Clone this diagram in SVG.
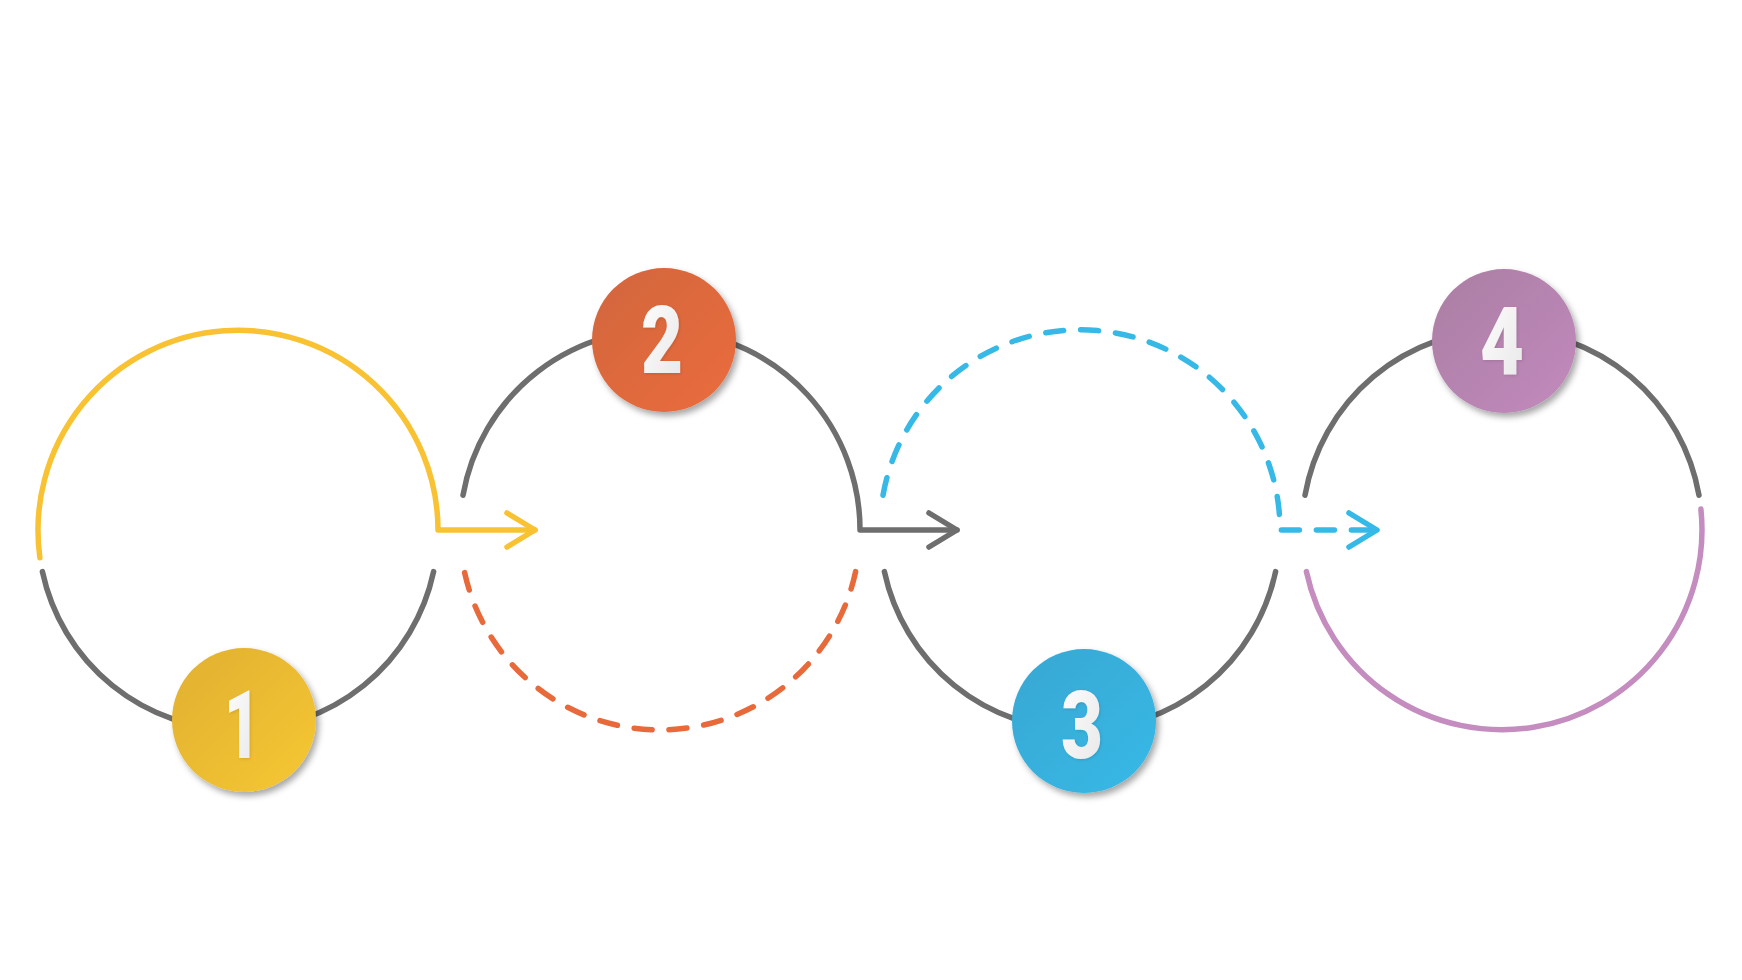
<svg xmlns="http://www.w3.org/2000/svg" width="1742" height="980" viewBox="0 0 1742 980">
  <style>
    .arc { fill: none; stroke-width: 5.5; stroke-linecap: round; }
    .gray { stroke: #6e6e6e; }
    .yellow { stroke: #f8c232; }
    .orange { stroke: #e8693a; }
    .blue { stroke: #36b9e6; }
    .purple { stroke: #c48cbf; }
    .dash { stroke-dasharray: 18 17; }
    .badge { filter: url(#shadow); }
    .num { font-family: "Roboto", "Lato", "Inter", "DejaVu Sans", sans-serif; font-weight: 900; font-size: 94px; fill: url(#gWhite); text-anchor: middle; filter: url(#tshadow); }
  </style>
  <defs>
    <filter id="shadow" x="-30%" y="-30%" width="170%" height="170%">
      <feDropShadow dx="3" dy="4" stdDeviation="3" flood-color="#000" flood-opacity="0.35"/>
    </filter>
    <filter id="tshadow" x="-30%" y="-30%" width="170%" height="170%">
      <feDropShadow dx="1" dy="1" stdDeviation="1.5" flood-color="#000" flood-opacity="0.12"/>
    </filter>
    <linearGradient id="gWhite" x1="0" y1="0" x2="1" y2="1">
      <stop offset="0" stop-color="#ffffff"/>
      <stop offset="1" stop-color="#e6e6e6"/>
    </linearGradient>
    <linearGradient id="gYellow" x1="0" y1="0" x2="1" y2="1">
      <stop offset="0" stop-color="#e0b033"/>
      <stop offset="1" stop-color="#f6c733"/>
    </linearGradient>
    <linearGradient id="gOrange" x1="0" y1="0" x2="1" y2="1">
      <stop offset="0" stop-color="#d1653f"/>
      <stop offset="1" stop-color="#eb6d3b"/>
    </linearGradient>
    <linearGradient id="gBlue" x1="0" y1="0" x2="1" y2="1">
      <stop offset="0" stop-color="#39a7d2"/>
      <stop offset="1" stop-color="#36b9e7"/>
    </linearGradient>
    <linearGradient id="gPurple" x1="0" y1="0" x2="1" y2="1">
      <stop offset="0" stop-color="#aa7ea3"/>
      <stop offset="1" stop-color="#c28abd"/>
    </linearGradient>
    <marker id="headYellow" markerUnits="userSpaceOnUse" markerWidth="40" markerHeight="44" viewBox="-34 -22 40 44" refX="0" refY="0" orient="auto">
      <path d="M-28,-17 L0,0 L-28,17" fill="none" stroke="#f8c232" stroke-width="5.5" stroke-linecap="round" stroke-linejoin="round"/>
    </marker>
    <marker id="headGray" markerUnits="userSpaceOnUse" markerWidth="40" markerHeight="44" viewBox="-34 -22 40 44" refX="0" refY="0" orient="auto">
      <path d="M-28,-17 L0,0 L-28,17" fill="none" stroke="#6e6e6e" stroke-width="5.5" stroke-linecap="round" stroke-linejoin="round"/>
    </marker>
    <marker id="headBlue" markerUnits="userSpaceOnUse" markerWidth="40" markerHeight="44" viewBox="-34 -22 40 44" refX="0" refY="0" orient="auto">
      <path d="M-28,-17 L0,0 L-28,17" fill="none" stroke="#36b9e6" stroke-width="5.5" stroke-linecap="round" stroke-linejoin="round"/>
    </marker>
  </defs>

  <rect x="0" y="0" width="1742" height="980" fill="#ffffff"/>

  <g id="connectors">
    <path class="arc yellow" d="M39.9,557.8 A200,200 0 1 1 438,530 H535" marker-end="url(#headYellow)" stroke-linejoin="round"/>
    <path class="arc gray" d="M463,495.3 A200,200 0 0 1 860,530 H957" marker-end="url(#headGray)" stroke-linejoin="round"/>
    <path class="arc blue dash" d="M883,495.3 A200,200 0 0 1 1280,530 H1377" marker-end="url(#headBlue)" stroke-linejoin="round"/>
  </g>

  <g id="step-1">
    <path class="arc gray" d="M433.6,571.6 A200,200 0 0 1 42.4,571.6"/>
    <circle class="badge" cx="244" cy="720" r="72" fill="url(#gYellow)"/>
    <text class="num" x="242" y="758" textLength="36" lengthAdjust="spacingAndGlyphs">1</text>
  </g>

  <g id="step-2">
    <path class="arc orange dash" d="M855.6,571.6 A200,200 0 0 1 464.4,571.6"/>
    <circle class="badge" cx="664" cy="340" r="72" fill="url(#gOrange)"/>
    <text class="num" x="662" y="373" textLength="42" lengthAdjust="spacingAndGlyphs">2</text>
  </g>

  <g id="step-3">
    <path class="arc gray" d="M1275.6,571.6 A200,200 0 0 1 884.4,571.6"/>
    <circle class="badge" cx="1084" cy="721" r="72" fill="url(#gBlue)"/>
    <text class="num" x="1082" y="758" textLength="42" lengthAdjust="spacingAndGlyphs">3</text>
  </g>

  <g id="step-4">
    <path class="arc gray" d="M1305,495.3 A200,200 0 0 1 1699,495.3"/>
    <path class="arc purple" d="M1700.9,509.1 A200,200 0 0 1 1306.4,571.6"/>
    <circle class="badge" cx="1504" cy="341" r="72" fill="url(#gPurple)"/>
    <text class="num" x="1502" y="374" textLength="44" lengthAdjust="spacingAndGlyphs">4</text>
  </g>
</svg>
